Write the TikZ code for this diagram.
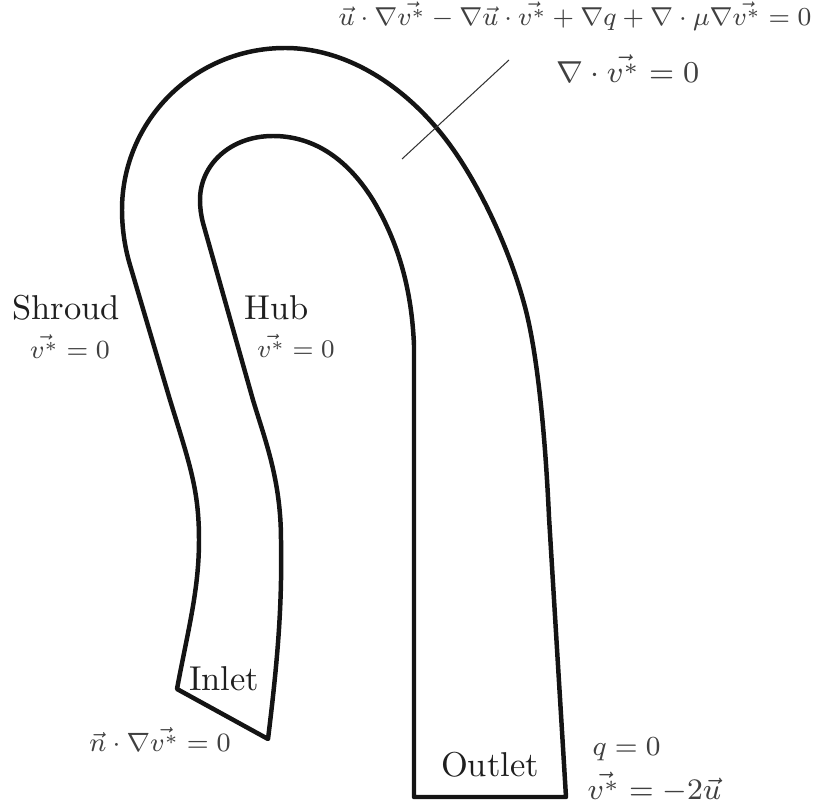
\documentclass[tikz,border=0pt]{standalone}
\begin{document}
\begin{tikzpicture}[x=0.29pt,y=-0.29pt,
  wall/.style={line width=1.3pt,line join=round,line cap=round,black!92},
  cut/.style={line width=0.3pt,black!80},
  lab/.style={inner sep=0pt,anchor=base,black!88},
  eq/.style={inner sep=0pt,anchor=base,black!75,font=\fontsize{8}{10}\selectfont}]
\useasboundingbox (0,0) rectangle (827,805);
\draw[wall] (177,689) .. controls (188,630) and (199,590) .. (199,540)
 .. controls (199,490) and (190,465) .. (170,400)
 -- (130,265)
 .. controls (124,245) and (122,225) .. (122,210)
 .. controls (122,120) and (195,48) .. (285,48)
 .. controls (350,48) and (410,90) .. (450,145)
 .. controls (480,186) and (510,250) .. (525,307)
 .. controls (537,352) and (545,430) .. (549,517)
 -- (566,797) -- (414,797) -- (414,345)
 .. controls (412,300) and (403,250) .. (373,200)
 .. controls (345,155) and (310,136) .. (273,136)
 .. controls (230,136) and (200,165) .. (200,200)
 .. controls (200,208) and (201,215) .. (203,223)
 -- (253,400)
 .. controls (265,440) and (281,480) .. (281,540)
 .. controls (282,600) and (279,650) .. (268,739)
 -- cycle;
\coordinate (cutA) at (402,159);
\coordinate (cutB) at (509,60);
\draw[cut] (cutA) -- (cutB);
\node[lab] (shroud) at (66,320) {Shroud};
\node[lab] (hub) at (277,320) {Hub};
\node[lab] (inlet) at (224,691) {Inlet};
\node[lab] (outlet) at (490,777) {Outlet};
\node[eq] (e1) at (575,26) {\scalebox{0.94}{$\vec{u}\cdot\nabla\vec{v^*}-\nabla\vec{u}\cdot\vec{v^*}+\nabla q+\nabla\cdot\mu\nabla\vec{v^*}=0$}};
\node[eq] (e2) at (628,83) {\scalebox{1.1}{$\nabla\cdot\vec{v^*}=0$}};
\node[eq] (e3) at (70,359) {\scalebox{0.95}{$\vec{v^*}=0$}};
\node[eq] (e4) at (296,358) {\scalebox{0.92}{$\vec{v^*}=0$}};
\node[eq] (e5) at (160,752) {\scalebox{0.96}{$\vec{n}\cdot\nabla\vec{v^*}=0$}};
\node[eq,anchor=base west] (e6) at (592,756) {$q=0$};
\node[eq,anchor=base west] (e7) at (587,800) {\scalebox{1.08}{$\vec{v^*}=-2\vec{u}$}};
\end{tikzpicture}
\end{document}
